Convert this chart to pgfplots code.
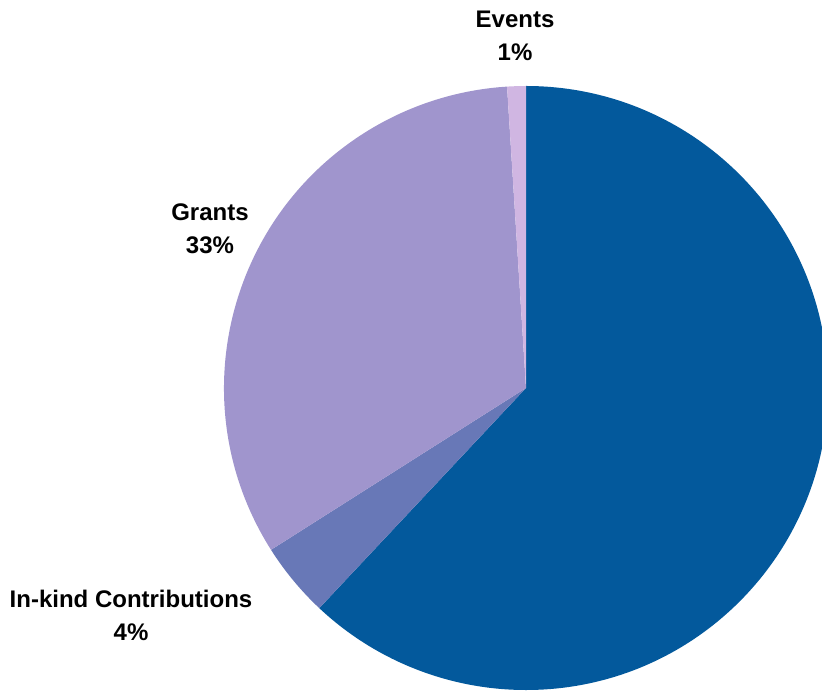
\documentclass[border=0pt]{standalone}
\usepackage{pgfplots}
\pgfplotsset{compat=1.18}
\usepackage{fontspec}
\setmainfont{Liberation Sans}

\definecolor{cMain}{HTML}{03599C}
\definecolor{cInkind}{HTML}{6878B7}
\definecolor{cGrants}{HTML}{A095CD}
\definecolor{cEvents}{HTML}{D0B6E2}

% slice shares in percent, drawn clockwise from 12 o'clock
\def\vMain{62}
\def\vInkind{4}
\def\vGrants{33}
\def\vEvents{1}

\begin{document}
\begin{tikzpicture}
\pgfmathsetmacro{\aA}{90}
\pgfmathsetmacro{\aB}{\aA-3.6*\vMain}
\pgfmathsetmacro{\aC}{\aB-3.6*\vInkind}
\pgfmathsetmacro{\aD}{\aC-3.6*\vGrants}
\pgfmathsetmacro{\aE}{\aD-3.6*\vEvents}
\useasboundingbox (0,0) rectangle (411pt,345pt);
\clip (0,0) rectangle (411pt,345pt);
\begin{axis}[
    at={(0,0)}, anchor=south west,
    x=0.5pt, y=0.5pt,
    xmin=-526, xmax=296,
    ymin=-302, ymax=388,
    hide axis,
    clip=false,
]
\fill[cMain] (axis cs:0,0) -- (axis cs:{302*cos(\aA)},{302*sin(\aA)})
    arc[start angle=\aA, end angle=\aB, radius=151pt] -- cycle;
\fill[cInkind] (axis cs:0,0) -- (axis cs:{302*cos(\aB)},{302*sin(\aB)})
    arc[start angle=\aB, end angle=\aC, radius=151pt] -- cycle;
\fill[cGrants] (axis cs:0,0) -- (axis cs:{302*cos(\aC)},{302*sin(\aC)})
    arc[start angle=\aC, end angle=\aD, radius=151pt] -- cycle;
\fill[cEvents] (axis cs:0,0) -- (axis cs:{302*cos(\aD)},{302*sin(\aD)})
    arc[start angle=\aD, end angle=\aE, radius=151pt] -- cycle;
\node[font=\fontsize{12}{16.5}\selectfont\bfseries, align=center] at (axis cs:-11,352) {Events\\1\%};
\node[font=\fontsize{12}{16.5}\selectfont\bfseries, align=center] at (axis cs:-316,159) {Grants\\33\%};
\node[font=\fontsize{12}{16.5}\selectfont\bfseries, align=center] at (axis cs:-395,-227) {In-kind Contributions\\4\%};
\end{axis}
\end{tikzpicture}
\end{document}
